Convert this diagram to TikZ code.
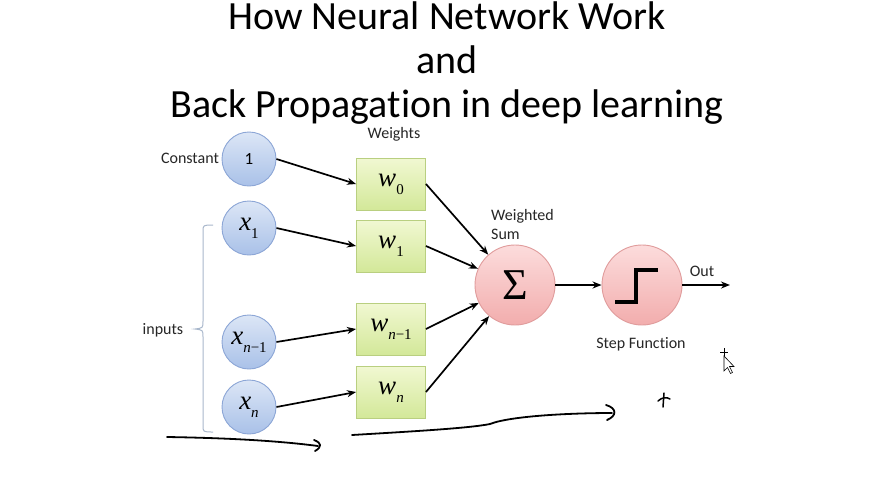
\documentclass[tikz,border=0pt]{standalone}
\usepackage{fontspec}
\setmainfont{Carlito}[Ligatures=NoCommon]
\newfontfamily\sr{Liberation Serif}
\usetikzlibrary{arrows.meta}
\definecolor{bluedraw}{HTML}{8CA6D6}
\definecolor{bluetop}{HTML}{DCE6F6}
\definecolor{bluebot}{HTML}{A9C1E8}
\definecolor{greendraw}{HTML}{B9CF80}
\definecolor{greentop}{HTML}{F1F8D2}
\definecolor{greenbot}{HTML}{D3E899}
\definecolor{pinkdraw}{HTML}{E09C9C}
\definecolor{pinktop}{HTML}{FCDCDC}
\definecolor{pinkbot}{HTML}{F2ADAD}
\definecolor{bracecol}{HTML}{A9B8CC}
\newcommand{\vv}[2]{{\sr\fontsize{27}{29}\selectfont{\itshape #1}\raisebox{-0.3em}{\fontsize{15}{17}\selectfont\upshape #2}}}
\begin{document}
\begin{tikzpicture}[x=1pt,y=-1pt,
  titlefont/.style={font=\fontsize{40}{44}\selectfont, inner sep=0, anchor=base},
  lab/.style={font=\fontsize{16}{19}\selectfont, inner sep=0, anchor=base, text=black!85},
  innode/.style={circle, minimum size=54pt, inner sep=0, draw=bluedraw, line width=0.9pt,
    top color=bluetop, bottom color=bluebot},
  wbox/.style={rectangle, minimum width=69pt, minimum height=52pt, inner sep=0, draw=greendraw,
    line width=0.9pt, top color=greentop, bottom color=greenbot},
  bignode/.style={circle, minimum size=80pt, inner sep=0, draw=pinkdraw, line width=0.9pt,
    top color=pinktop, bottom color=pinkbot},
  conn/.style={line width=1.7pt, -{Stealth[length=9pt,width=7pt]}},
  hand/.style={line width=1.8pt, line cap=round, line join=round}
]
\useasboundingbox (0,0) rectangle (881,483);
\fill[white] (0,0) rectangle (881,483);

% title
\node[titlefont] (t1) at (447,29) {How Neural Network Work};
\node[titlefont] (t2) at (447,73) {and};
\node[titlefont] (t3) at (447,117) {Back Propagation in deep learning};

% input nodes
\node[innode, font=\fontsize{17}{20}\selectfont] (one) at (249,159) {1};
\node[innode] (x1) at (249,228) {\vv{x}{1}};
\node[innode] (xn1) at (249,342) {\vv{x}{\itshape n\upshape−1}};
\node[innode] (xn) at (249,407) {\vv{x}{\itshape n}};

% weights
\node[wbox] (w0) at (391,184) {\vv{w}{0}};
\node[wbox] (w1) at (391,246) {\vv{w}{1}};
\node[wbox] (wn1) at (391,329) {\vv{w}{\itshape n\upshape−1}};
\node[wbox] (wn) at (391,392) {\vv{w}{\itshape n}};

% sum and step
\node[bignode, font=\sr\fontsize{44}{48}\selectfont] (sigma) at (515,285) {Σ};
\node[bignode] (step) at (642,285) {};
\draw[line width=3.2pt, line cap=butt, line join=miter, shift={(step.center)}]
  (-27,17) -- (-6,17) -- (-6,-15) -- (16,-15);
\coordinate (outend) at (730,285);

% labels
\node[lab] (lconst) at (190,163) {Constant};
\node[lab] (lweights) at (394,138) {Weights};
\node[lab, anchor=base west] (lweighted) at (491,220) {Weighted};
\node[lab, anchor=base west] (lsum) at (491,239) {Sum};
\node[lab] (lout) at (702,276) {Out};
\node[lab] (lstep) at (641,348) {Step Function};
\node[lab] (linputs) at (163,334) {inputs};

% brace
\draw[bracecol, line width=1pt]
  (213,225) .. controls (203,225) .. (203,232) -- (203,321)
  .. controls (203,328) .. (195,329) .. controls (203,330) .. (203,337)
  -- (203,425) .. controls (203,432) .. (213,432);

% connectors
\draw[conn] (one.east) -- (w0.west);
\draw[conn] (x1.east) -- (w1.west);
\draw[conn] (xn1.east) -- (wn1.west);
\draw[conn] (xn.east) -- (wn.west);
\draw[conn] (w0.east) -- (sigma);
\draw[conn] (w1.east) -- (sigma);
\draw[conn] (wn1.east) -- (sigma);
\draw[conn] (wn.east) -- (sigma);
\draw[conn] (sigma) -- (step);
\draw[conn] (step.east) -- (outend);

% hand-drawn strokes
\draw[hand] (167,437) .. controls (230,438) and (280,441) .. (318,446);
\draw[hand] (314,440) .. controls (322,443) and (322,447) .. (315,451);
\draw[hand] (352,435) .. controls (420,431) and (470,428) .. (490,424)
  .. controls (510,416) and (570,413) .. (612,413);
\draw[hand] (606,405) .. controls (617,408) and (617,416) .. (607,420);
\draw[hand, line width=1.5pt] (664,393) -- (663,407);
\draw[hand, line width=1.5pt] (658,401) .. controls (662,397) and (667,397) .. (670,399);

% cursor
\draw[line width=0.6pt, fill=white] (724,356) -- (724,371) -- (727.5,367.5) -- (730.5,373.5)
  -- (732.5,372.5) -- (729.5,366.5) -- (734,366.5) -- cycle;
\draw[line width=0.8pt] (720,352) -- (728,352) (724,348) -- (724,356);
\end{tikzpicture}
\end{document}
